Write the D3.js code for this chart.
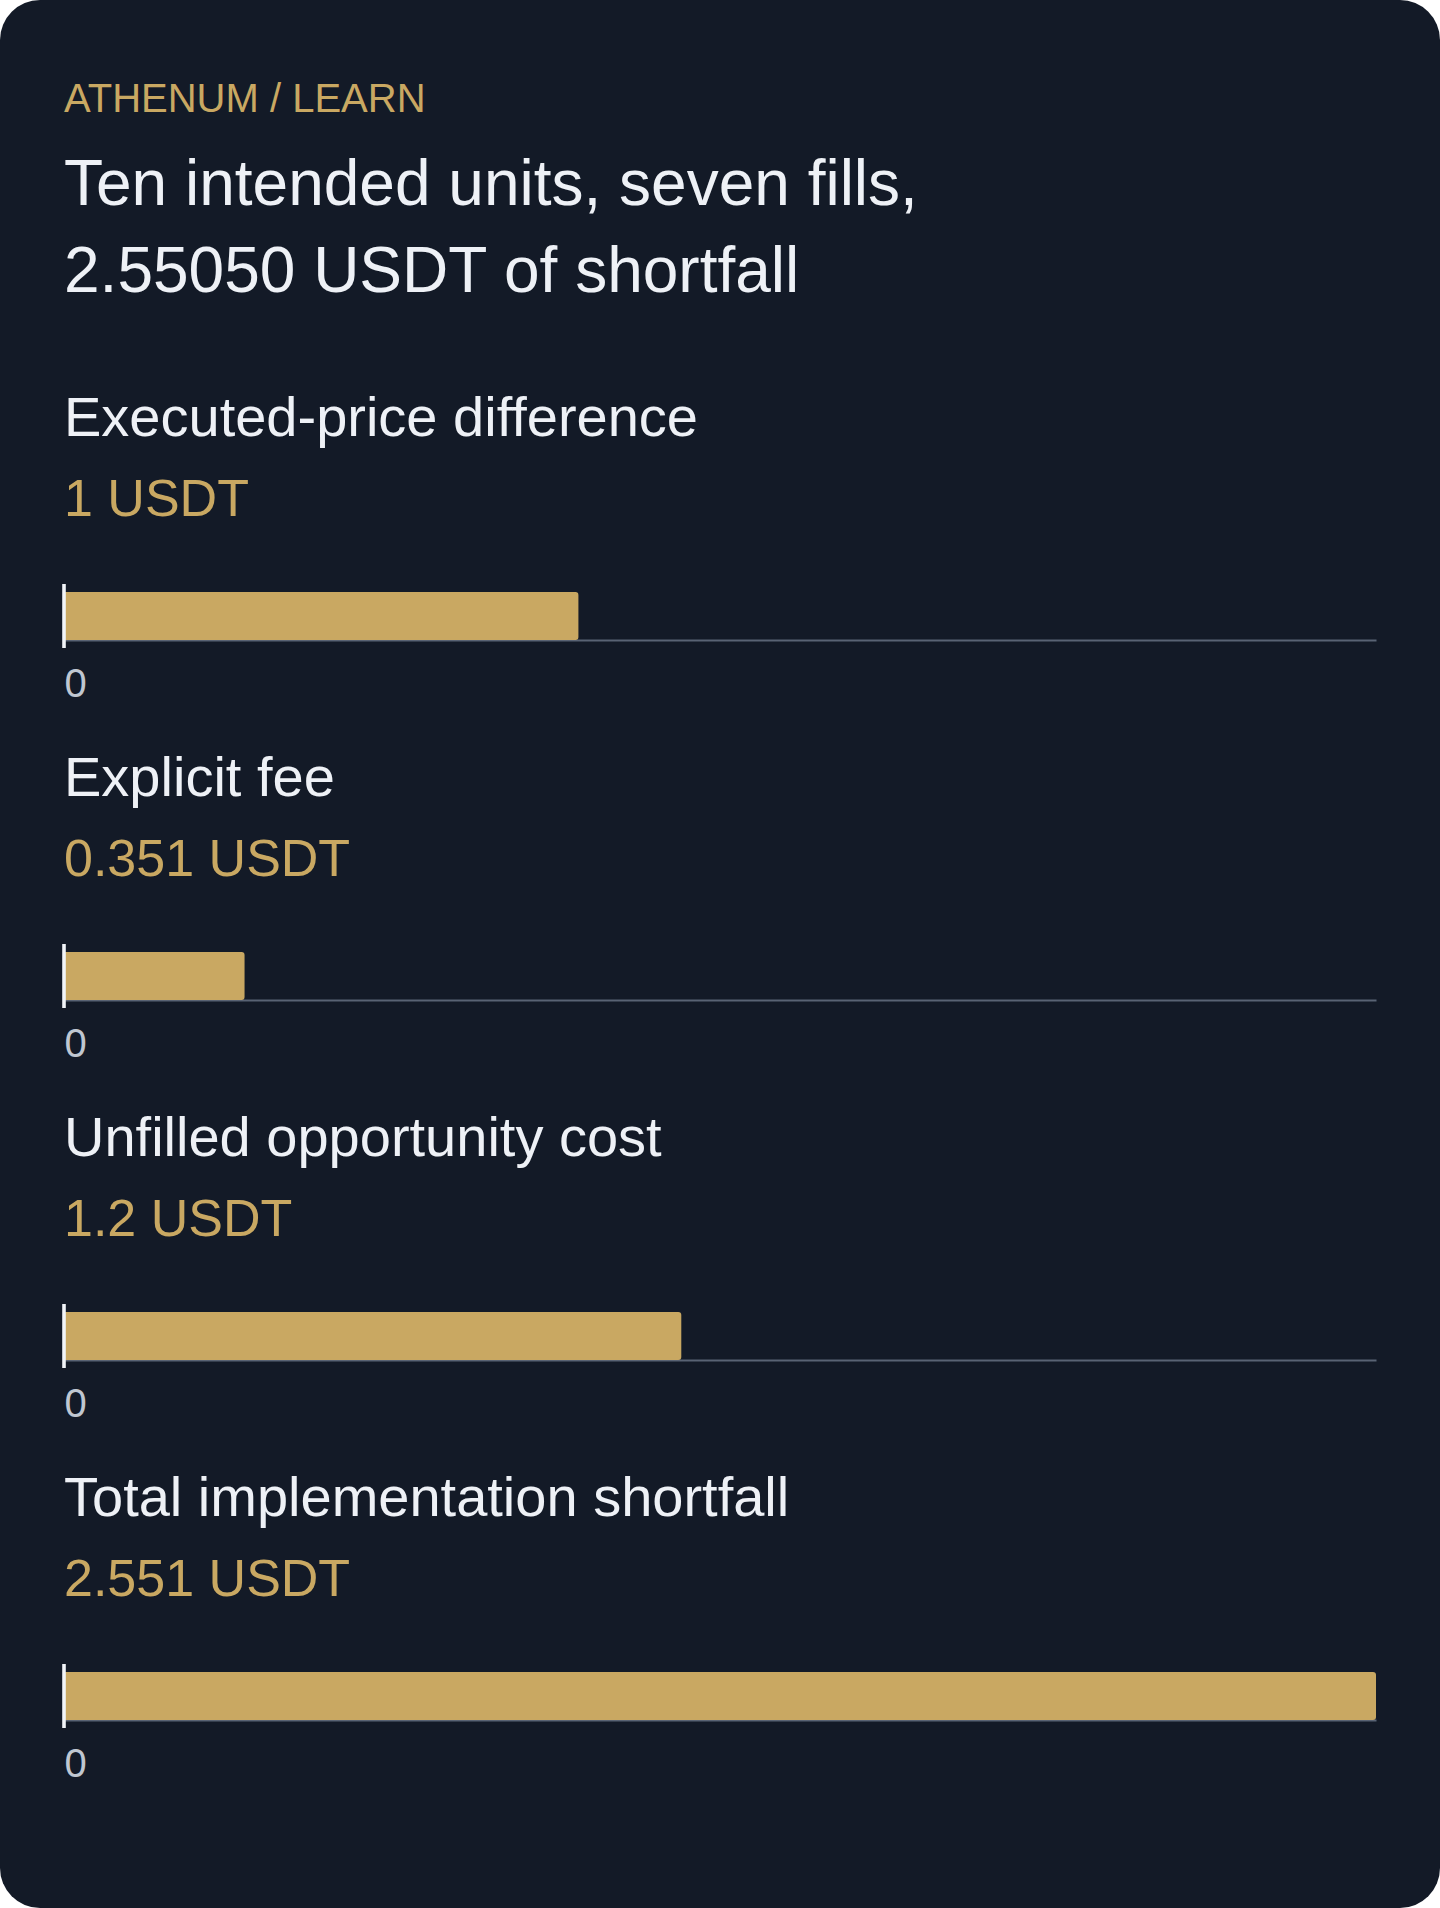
<!DOCTYPE html>
<html>
<head>
<meta charset="utf-8">
<script src="https://cdn.jsdelivr.net/npm/d3@7/dist/d3.min.js"></script>
<style>
  html, body { margin: 0; padding: 0; background: #ffffff; }
  svg { display: block; }
  text { font-family: "Liberation Sans", Arial, Helvetica, sans-serif; }
</style>
</head>
<body>
<svg id="chart" width="1440" height="1908"></svg>
<script>
// ---- data ----
const eyebrow = "ATHENUM / LEARN";
const titleLines = ["Ten intended units, seven fills,", "2.55050 USDT of shortfall"];
const categories = ["Executed-price difference", "Explicit fee", "Unfilled opportunity cost", "Total implementation shortfall"];
const values = [1.0, 0.351, 1.2, 2.5505];
const valueLabels = ["1 USDT", "0.351 USDT", "1.2 USDT", "2.551 USDT"];
const tickValues = [0];
const tickLabels = ["0"];

// ---- layout ----
const W = 1440, H = 1908;
const left = 64, right = 1376;
const firstBarTop = 592, rowStep = 360, barH = 48;

const svg = d3.select("#chart");

svg.append("rect")
  .attr("x", 0).attr("y", 0).attr("width", W).attr("height", H)
  .attr("rx", 40).attr("ry", 40)
  .attr("fill", "#131a27");

svg.append("text")
  .attr("x", 64).attr("y", 112)
  .attr("fill", "#c9a862")
  .attr("font-size", 40)
  .text(eyebrow);

svg.selectAll("text.title").data(titleLines).join("text")
  .attr("class", "title")
  .attr("x", 64).attr("y", (d, i) => 205 + i * 87)
  .attr("fill", "#eef1f6")
  .attr("font-size", 64)
  .text(d => d);

const x = d3.scaleLinear().domain([0, d3.max(values)]).range([left, right]);

const rows = svg.selectAll("g.row").data(categories).join("g")
  .attr("class", "row")
  .attr("transform", (d, i) => `translate(0,${firstBarTop + i * rowStep})`);

rows.append("text")
  .attr("x", 64).attr("y", -156)
  .attr("fill", "#eef1f6")
  .attr("font-size", 56)
  .text(d => d);

rows.append("text")
  .attr("x", 64).attr("y", -76)
  .attr("fill", "#c9a862")
  .attr("font-size", 52)
  .text((d, i) => valueLabels[i]);

// axis (domain line along bar bottom, zero tick label)
rows.each(function(d, i) {
  const g = d3.select(this).append("g")
    .attr("transform", `translate(0,${barH})`)
    .call(d3.axisBottom(x).tickValues(tickValues).tickFormat((v, k) => tickLabels[k]).tickSize(0).tickSizeOuter(0).tickPadding(0));
  g.select(".domain").attr("stroke", "#596374").attr("stroke-width", 2);
  g.selectAll(".tick text")
    .attr("fill", "#c0c7d1")
    .attr("font-size", 40)
    .attr("text-anchor", "start")
    .attr("dy", null)
    .attr("y", 57);
});

// bars
rows.append("path")
  .attr("fill", "#c9a862")
  .attr("d", (d, i) => {
    const x0 = x(0), x1 = x(values[i]), r = 3;
    return `M${x0},0 H${x1 - r} Q${x1},0 ${x1},${r} V${barH - r} Q${x1},${barH} ${x1 - r},${barH} H${x0} Z`;
  });

// zero rule
rows.append("line")
  .attr("x1", x(0)).attr("x2", x(0))
  .attr("y1", -8).attr("y2", barH + 8)
  .attr("stroke", "#f1f4f8")
  .attr("stroke-width", 3.6);
</script>
</body>
</html>
